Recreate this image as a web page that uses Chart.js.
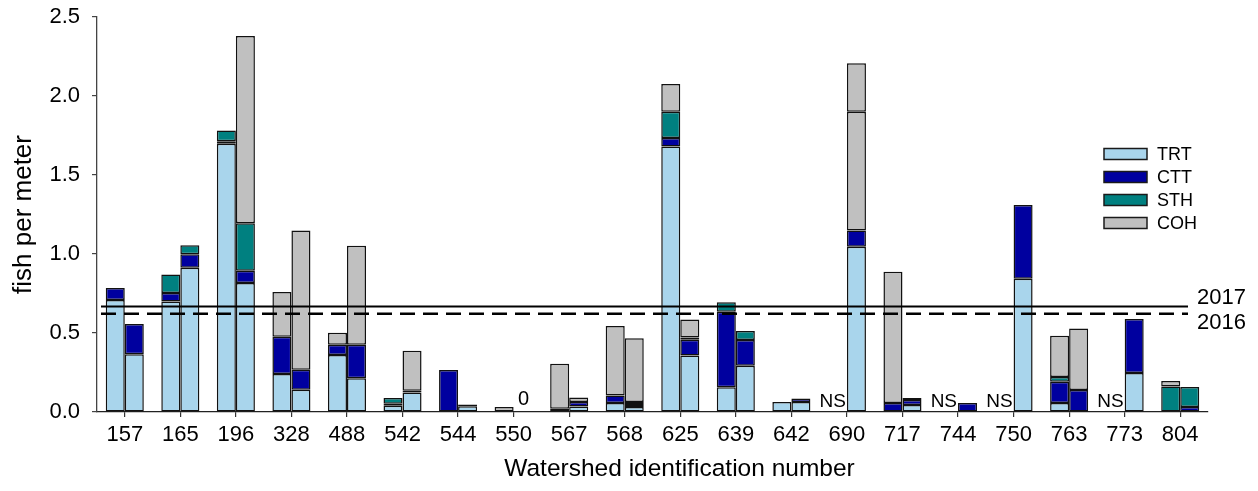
<!DOCTYPE html>
<html>
<head>
<meta charset="utf-8">
<title>Fish density by watershed</title>
<script src="https://cdn.jsdelivr.net/npm/chart.js@4.4.0/dist/chart.umd.min.js"></script>
<style>
  html, body { margin: 0; padding: 0; background: #ffffff; }
  #wrap { width: 1258px; height: 491px; }
</style>
</head>
<body>
<div id="wrap"><canvas id="chart" width="1258" height="491"></canvas></div>
<script>
// Watersheds sampled (x categories)
const watersheds = ['157','165','196','328','488','542','544','550','567','568',
                    '625','639','642','690','717','744','750','763','773','804'];

// Fish per meter, 2016 survey (null = none caught / not sampled)
const trt2016 = [0.709, 0.700, 1.698, 0.240, 0.360, 0.040, null, null, null, 0.057,
                 1.681, 0.156, 0.063, null, null, null, null, 0.057, null, null];
const ctt2016 = [0.076, 0.053, 0.015, 0.237, 0.066, 0.013, 0.266, null, 0.020, 0.048,
                 0.053, 0.479, null, null, 0.057, null, null, 0.135, null, null];
const sth2016 = [null, 0.118, 0.069, null, null, 0.035, null, null, null, null,
                 0.166, 0.059, null, null, null, null, null, 0.030, null, 0.162];
const coh2016 = [null, null, null, 0.283, 0.076, null, null, 0.032, 0.286, 0.439,
                 0.176, null, null, null, 0.831, null, null, 0.261, null, 0.034];

// Fish per meter, 2017 survey
const trt2017 = [0.365, 0.913, 0.816, 0.141, 0.213, 0.124, 0.036, null, 0.035, 0.032,
                 0.358, 0.293, 0.063, 1.046, 0.044, null, 0.844, null, 0.247, null];
const ctt2017 = [0.192, 0.085, 0.078, 0.127, 0.213, 0.011, 0.012, null, 0.028, 0.019,
                 0.100, 0.163, 0.023, 0.103, 0.032, 0.057, 0.466, 0.139, 0.342, 0.032];
const sth2017 = [null, 0.057, 0.300, null, null, null, null, null, null, 0.012,
                 0.014, 0.057, null, null, null, null, null, null, null, 0.126];
const coh2017 = [null, null, 1.186, 0.881, 0.626, 0.253, null, null, 0.028, 0.403,
                 0.114, null, null, 0.751, 0.013, null, null, 0.390, null, null];
// 690 coho were tallied in two parts; the second part stacks on top
const coh2017Extra = [null, null, null, null, null, null, null, null, null, null,
                      null, null, null, 0.307, null, null, null, null, null, null];

// Watersheds not sampled in 2016, and sampled with zero catch in 2017
const notSampled2016 = ['690', '744', '750', '773'];
const zeroCatch2017 = ['550'];

// Mean density reference lines
const refYears = ['2017', '2016'];
const refValues = [0.668, 0.622];

const yTicks = [0, 0.5, 1.0, 1.5, 2.0, 2.5];

const X_TITLE = 'Watershed identification number';
const FONT = "'Liberation Sans', Arial, sans-serif";
const COLORS = { TRT: '#a9d5ec', CTT: '#00009f', STH: '#008080', COH: '#c0c0c0' };

function series(label, data, stack, color, inLegend) {
  return {
    label: label,
    data: data,
    stack: stack,
    backgroundColor: color,
    borderColor: '#111111',
    borderWidth: 1.5,
    borderSkipped: false,
    inLegend: inLegend
  };
}

const datasets = [
  series('TRT', trt2016, '2016', COLORS.TRT, true),
  series('CTT', ctt2016, '2016', COLORS.CTT, true),
  series('STH', sth2016, '2016', COLORS.STH, true),
  series('COH', coh2016, '2016', COLORS.COH, true),
  series('TRT', trt2017, '2017', COLORS.TRT, false),
  series('CTT', ctt2017, '2017', COLORS.CTT, false),
  series('STH', sth2017, '2017', COLORS.STH, false),
  series('COH', coh2017, '2017', COLORS.COH, false),
  series('COH', coh2017Extra, '2017', COLORS.COH, false)
];

// Reference lines, "NS"/"0" notes, the species key and the x title
const annotations = {
  id: 'annotations',
  afterDatasetsDraw(chart) {
    const ctx = chart.ctx;
    const area = chart.chartArea;
    const y = chart.scales.y;
    const x = chart.scales.x;
    ctx.save();

    // mean density lines with year labels
    refValues.forEach((v, i) => {
      const py = y.getPixelForValue(v);
      ctx.beginPath();
      ctx.strokeStyle = '#000';
      ctx.lineWidth = i === 0 ? 2 : 2.4;
      ctx.setLineDash(i === 0 ? [] : [15, 8]);
      ctx.moveTo(area.left + 4, py);
      ctx.lineTo(area.right - 20, py);
      ctx.stroke();
      ctx.setLineDash([]);
      ctx.fillStyle = '#000';
      ctx.font = '22px ' + FONT;
      ctx.textAlign = 'left';
      ctx.textBaseline = 'middle';
      ctx.fillText(refYears[i], area.right - 11, i === 0 ? py - 9 : py + 9);
    });

    const base = y.getPixelForValue(0);
    ctx.fillStyle = '#000';
    ctx.textBaseline = 'alphabetic';

    // not sampled in 2016
    ctx.font = '19px ' + FONT;
    ctx.textAlign = 'right';
    notSampled2016.forEach(w => {
      const cx = x.getPixelForValue(watersheds.indexOf(w));
      ctx.fillText('NS', cx - 1, base - 5);
    });

    // zero catch in 2017
    ctx.font = '20px ' + FONT;
    ctx.textAlign = 'center';
    zeroCatch2017.forEach(w => {
      const idx = watersheds.indexOf(w);
      const bar = chart.getDatasetMeta(4).data[idx];
      ctx.fillText('0', bar.x + 0.5, base - 7);
    });

    // x axis title
    ctx.font = '24.5px ' + FONT;
    ctx.textAlign = 'center';
    ctx.fillText(X_TITLE, (area.left + area.right) / 2 + 27, 476);

    // species key
    const keyItems = chart.data.datasets.filter(d => d.inLegend);
    const boxL = area.right - 104, boxW = 43, boxH = 11;
    keyItems.forEach((d, i) => {
      const cy = 154 + i * 23;
      ctx.fillStyle = d.backgroundColor;
      ctx.fillRect(boxL, cy - boxH / 2, boxW, boxH);
      ctx.strokeStyle = '#1a1a1a';
      ctx.lineWidth = 1.5;
      ctx.strokeRect(boxL, cy - boxH / 2, boxW, boxH);
      ctx.fillStyle = '#000';
      ctx.font = '18px ' + FONT;
      ctx.textAlign = 'left';
      ctx.textBaseline = 'middle';
      ctx.fillText(d.label, boxL + 53, cy + 1);
    });

    ctx.restore();
  }
};

new Chart(document.getElementById('chart'), {
  type: 'bar',
  data: { labels: watersheds, datasets: datasets },
  options: {
    responsive: false,
    animation: false,
    devicePixelRatio: 1,
    categoryPercentage: 0.685,
    barPercentage: 1.0,
    layout: { padding: { left: 0, top: 17, right: 50, bottom: 0 } },
    plugins: {
      legend: { display: false },
      tooltip: { enabled: false }
    },
    scales: {
      x: {
        stacked: true,
        offset: true,
        grid: { display: true, drawOnChartArea: false, offset: false, tickLength: 5, color: '#333', lineWidth: 1.2 },
        border: { display: true, color: '#222', width: 1.3 },
        ticks: { color: '#000', font: { family: FONT, size: 22 }, padding: 5, maxRotation: 0, autoSkip: false },
        title: { display: false },
        afterFit(s) { s.height = 79; s.paddingLeft = 0; s.paddingRight = 0; }
      },
      y: {
        stacked: true,
        min: 0,
        max: 2.5,
        afterBuildTicks(s) { s.ticks = yTicks.map(v => ({ value: v })); },
        grid: { display: true, drawOnChartArea: false, tickLength: 5, color: '#444', lineWidth: 1.2 },
        border: { display: true, color: '#444', width: 1.3 },
        ticks: {
          color: '#000',
          font: { family: FONT, size: 22 },
          padding: 12,
          callback: v => Number(v).toFixed(1)
        },
        title: {
          display: true,
          text: 'fish per meter',
          color: '#000',
          font: { family: FONT, size: 26 },
          padding: { top: 8, bottom: 0 }
        },
        afterFit(s) { s.width = 97; s.paddingTop = 0; s.paddingBottom = 0; }
      }
    }
  },
  plugins: [annotations]
});
</script>
</body>
</html>
